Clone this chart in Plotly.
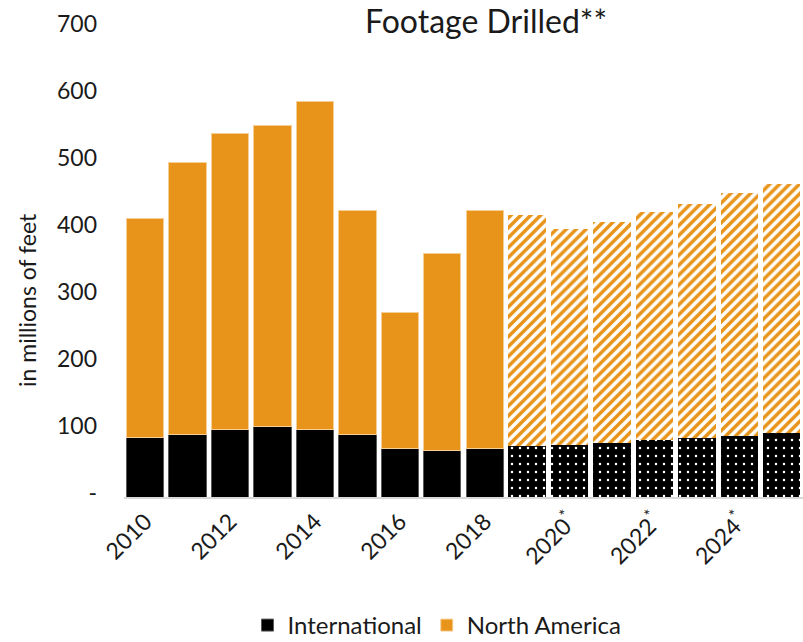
import plotly.graph_objects as go

years = [str(y) for y in range(2010, 2026)]
actual_years = years[:9]        # 2010-2018
forecast_years = years[9:]      # 2019-2025

intl_actual = [89, 93, 101, 105, 101, 93, 73, 69, 73]
na_actual = [327, 407, 442, 450, 490, 335, 203, 295, 355]

intl_forecast = [76, 78, 80, 85, 88, 91, 95]
na_forecast = [345, 322, 330, 340, 350, 362, 372]

tick_years = ["2010", "2012", "2014", "2016", "2018", "2020", "2022", "2024"]
tick_labels = ["2010", "2012", "2014", "2016", "2018",
               "2020<sup>*</sup>", "2022<sup>*</sup>", "2024<sup>*</sup>"]
y_ticks = [0, 100, 200, 300, 400, 500, 600, 700]
y_tick_labels = ["-", "100", "200", "300", "400", "500", "600", "700"]

ORANGE = "#E8941A"
FONT = "Lato"

fig = go.Figure()
fig.add_trace(go.Bar(
    x=actual_years, y=intl_actual, name="International",
    marker=dict(color="black", line=dict(color="#5a5a5a", width=1)),
))
fig.add_trace(go.Bar(
    x=actual_years, y=na_actual, name="North America",
    marker=dict(color=ORANGE, line=dict(color="#F6CF98", width=1)),
))
fig.add_trace(go.Bar(
    x=forecast_years, y=intl_forecast, name="International", showlegend=False,
    marker=dict(color="black", line=dict(width=0),
                pattern=dict(shape=".", fgcolor="white", bgcolor="black",
                             size=8, solidity=0.08, fillmode="replace", fgopacity=1)),
))
fig.add_trace(go.Bar(
    x=forecast_years, y=na_forecast, name="North America", showlegend=False,
    marker=dict(color="white", line=dict(width=0),
                pattern=dict(shape="/", fgcolor=ORANGE, bgcolor="white",
                             size=7, solidity=0.5, fillmode="replace", fgopacity=1)),
))

W, H = 803, 642
L, R = 124, 0
T = 28
B = H - 497
pw = W - L - R
ph = H - T - B

def px_x(p):
    return (p - L) / pw

def px_y(p):
    return (H - B - p) / ph

fig.update_layout(
    width=W, height=H,
    margin=dict(l=L, r=R, t=T, b=B, pad=0, autoexpand=False),
    barmode="stack", bargap=0.12,
    plot_bgcolor="white", paper_bgcolor="white",
    font=dict(family=FONT, color="#1a1a1a", size=23),
    xaxis=dict(
        type="category", categoryorder="array", categoryarray=years,
        tickmode="array", tickvals=tick_years, ticktext=tick_labels,
        tickangle=-45, showline=True, linecolor="#D9D9D9", linewidth=2,
        showgrid=False, ticks="", tickfont=dict(size=23, family=FONT),
        automargin=False,
    ),
    yaxis=dict(
        range=[0, 700], tickmode="array", tickvals=y_ticks, ticktext=y_tick_labels,
        showgrid=False, zeroline=False, showline=False, ticks="",
        ticklabelstandoff=26, ticklabelshift=-4,
        tickfont=dict(size=23, family=FONT), automargin=False,
    ),
    legend=dict(
        orientation="h", x=px_x(437), xanchor="center",
        y=px_y(603), yanchor="top",
        font=dict(size=24, family=FONT), itemwidth=30,
        traceorder="normal",
    ),
    showlegend=True,
    annotations=[
        dict(text="Footage Drilled**", x=px_x(486), y=px_y(21), xref="paper", yref="paper",
             xanchor="center", yanchor="middle", showarrow=False,
             font=dict(size=32, family=FONT, color="#1a1a1a")),
        dict(text="in millions of feet", x=px_x(27), y=px_y(300), xref="paper", yref="paper",
             xanchor="center", yanchor="middle", textangle=-90, showarrow=False,
             font=dict(size=23, family=FONT, color="#1a1a1a")),
    ],
)

fig.write_html(
    "out.html",
    config={"displayModeBar": False},
    post_script="document.body.style.margin='0px';document.body.style.overflow='hidden';",
)
